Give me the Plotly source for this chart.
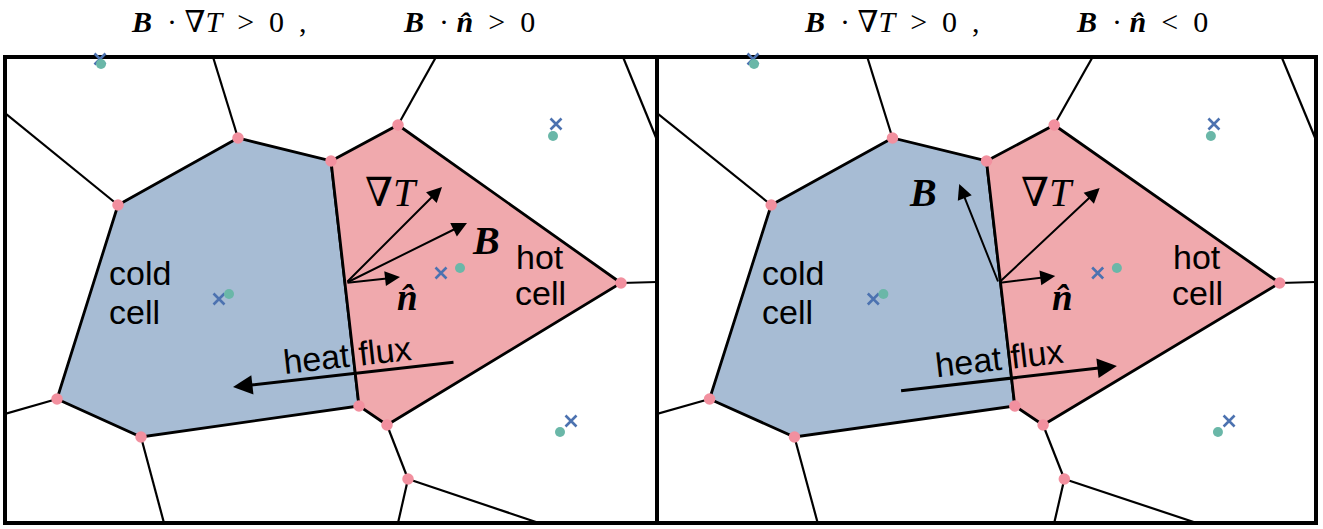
import plotly.graph_objects as go

# ---------------- data (schematic coordinates, same mesh in both panels) ----------------
# Voronoi vertices (pink dots)
vert_x = [233, 326, 393, 113, 616, 52, 136, 354, 382, 403]
vert_y = [385, 362, 398, 318, 240, 124, 86, 117, 98, 44]

# cold cell polygon (vertex indices) and hot cell polygon
cold_idx = [3, 0, 1, 7, 6, 5, 3]
hot_idx = [1, 2, 4, 8, 7, 1]

# other mesh edges (segments)
edge_x0 = [233, 393, 113, 618, 616, 52, 136, 382, 403, 403]
edge_y0 = [385, 398, 318, 466, 240, 124, 86, 98, 44, 44]
edge_x1 = [208, 431, 0, 652, 652, 0, 159, 403, 393, 534]
edge_y1 = [466, 466, 410, 383, 241, 109, 0, 44, 0, 0]

# mesh-generating points (x) and cell centroids (dots)
gen_x = [95, 551, 436, 214, 566]
gen_y = [464, 399, 250, 224, 102]
cen_x = [96, 548, 455, 224, 555]
cen_y = [459, 387, 255, 229, 91]

# vectors: origin and tips, per panel
panels = ["left", "right"]
origin = {"left": (341, 240), "right": (338, 240)}
tip_gradT = {"left": (437, 336), "right": (438, 335)}
tip_B = {"left": (462, 300), "right": (299, 339)}
tip_n = {"left": (395, 246), "right": (394, 247)}
flux_tail = {"left": (450, 161), "right": (240, 132)}
flux_head = {"left": (228, 136), "right": (455, 157)}
lab_gradT = {"left": (386, 331), "right": (386, 331)}
lab_B = {"left": (481, 283), "right": (263, 331)}
lab_n = {"left": (402, 226), "right": (401, 226)}
lab_flux = {"left": (342, 168), "right": (339, 165)}
flux_angle = {"left": -6.4, "right": -6.6}
titles = {"left": ">", "right": "<"}

# cell label words: (text, x-left, y-centre)
cell_words = [("cold", 102, 250), ("cell", 102, 211), ("hot", 509, 266), ("cell", 508, 230)]

# colours
C_COLD = "#A7BCD4"
C_HOT = "#F0A9AD"
C_VERT = "#F2909F"
C_GEN = "#4C72B0"
C_CEN = "#6AB7A8"

# ---------------- figure ----------------
W, H = 1323, 529
ML, MR, MT, MB = 5, 7, 57, 6
PW = W - ML - MR
split = 652 / PW

fig = go.Figure()
SERIF = "Liberation Serif, DejaVu Serif, serif"
SANS = "Liberation Sans, Arial, sans-serif"

for k, p in enumerate(panels):
    xa = "x" if k == 0 else "x2"
    ya = "y" if k == 0 else "y2"
    # cell fills
    fig.add_trace(go.Scatter(x=[vert_x[i] for i in cold_idx], y=[vert_y[i] for i in cold_idx],
                             fill="toself", fillcolor=C_COLD, mode="lines",
                             line=dict(color="black", width=2.8), xaxis=xa, yaxis=ya, hoverinfo="skip"))
    fig.add_trace(go.Scatter(x=[vert_x[i] for i in hot_idx], y=[vert_y[i] for i in hot_idx],
                             fill="toself", fillcolor=C_HOT, mode="lines",
                             line=dict(color="black", width=2.8), xaxis=xa, yaxis=ya, hoverinfo="skip"))
    # other edges
    ex, ey = [], []
    for a, b, c, d in zip(edge_x0, edge_y0, edge_x1, edge_y1):
        ex += [a, c, None]
        ey += [b, d, None]
    fig.add_trace(go.Scatter(x=ex, y=ey, mode="lines", line=dict(color="black", width=2.2),
                             xaxis=xa, yaxis=ya, hoverinfo="skip"))
    # vertices
    fig.add_trace(go.Scatter(x=vert_x, y=vert_y, mode="markers",
                             marker=dict(color=C_VERT, size=11.5, line=dict(width=0)),
                             xaxis=xa, yaxis=ya, hoverinfo="skip"))
    # generators and centroids
    fig.add_trace(go.Scatter(x=gen_x, y=gen_y, mode="markers", cliponaxis=False,
                             marker=dict(symbol="x-thin", color=C_GEN, size=11,
                                         line=dict(color=C_GEN, width=2.6)),
                             xaxis=xa, yaxis=ya, hoverinfo="skip"))
    fig.add_trace(go.Scatter(x=cen_x, y=cen_y, mode="markers", cliponaxis=False,
                             marker=dict(color=C_CEN, size=10, line=dict(width=0)),
                             xaxis=xa, yaxis=ya, hoverinfo="skip"))

    # vector arrows
    ox, oy = origin[p]
    for tip in (tip_gradT[p], tip_B[p], tip_n[p]):
        fig.add_annotation(x=tip[0], y=tip[1], ax=ox, ay=oy, xref=xa, yref=ya,
                           axref=xa, ayref=ya, text="", showarrow=True,
                           arrowhead=2, arrowsize=1.5, arrowwidth=2, arrowcolor="black", standoff=0)
    fig.add_annotation(x=flux_head[p][0], y=flux_head[p][1], ax=flux_tail[p][0], ay=flux_tail[p][1],
                       xref=xa, yref=ya, axref=xa, ayref=ya, text="", showarrow=True,
                       arrowhead=2, arrowsize=1.3, arrowwidth=3, arrowcolor="black", standoff=0)

    # vector labels
    fig.add_annotation(x=lab_gradT[p][0], y=lab_gradT[p][1], xref=xa, yref=ya, showarrow=False,
                       text="∇<i>T</i>", font=dict(family=SERIF, size=40, color="black"))
    fig.add_annotation(x=lab_B[p][0], y=lab_B[p][1], xref=xa, yref=ya, showarrow=False,
                       text="<b><i>B</i></b>", font=dict(family=SERIF, size=40, color="black"))
    fig.add_annotation(x=lab_n[p][0], y=lab_n[p][1], xref=xa, yref=ya, showarrow=False,
                       text="<b><i>n̂</i></b>", font=dict(family=SERIF, size=37, color="black"))
    # cell labels
    for word, wx, wy in cell_words:
        fig.add_annotation(x=wx, y=wy, xref=xa, yref=ya, showarrow=False, xanchor="left",
                           yanchor="middle", text=word, font=dict(family=SANS, size=34, color="black"))
    fig.add_annotation(x=lab_flux[p][0], y=lab_flux[p][1], xref=xa, yref=ya, showarrow=False,
                       textangle=flux_angle[p], text="heat flux",
                       font=dict(family=SANS, size=34, color="black"))

    # title
    nb = "\u00a0"
    ttl = (f"<b><i>B</i></b>{nb*2}·{nb}∇<i>T</i>{nb*2}>{nb*2}0{nb*2},{nb*13}"
           f"<b><i>B</i></b>{nb*2}·{nb}<b><i>n̂</i></b>{nb*2}{titles[p]}{nb*2}0")
    cx = (333 - ML) / PW if k == 0 else (1006 - ML) / PW
    fig.add_annotation(x=cx, y=(H - MB - 21) / (H - MT - MB), xref="paper", yref="paper",
                       showarrow=False, text=ttl, xanchor="center", yanchor="middle",
                       font=dict(family=SERIF, size=30, color="black"))

# panel frames
fig.add_shape(type="rect", xref="paper", yref="paper", x0=0, x1=split, y0=0, y1=1,
              line=dict(color="black", width=4), layer="below")
fig.add_shape(type="rect", xref="paper", yref="paper", x0=split, x1=1, y0=0, y1=1,
              line=dict(color="black", width=4), layer="below")

ax_common = dict(range=[0, 652], showgrid=False, zeroline=False, showticklabels=False,
                 ticks="", showline=False, fixedrange=True)
ay_common = dict(range=[0, 466], showgrid=False, zeroline=False, showticklabels=False,
                 ticks="", showline=False, fixedrange=True)
fig.update_layout(
    width=W, height=H, showlegend=False,
    margin=dict(l=ML, r=MR, t=MT, b=MB, pad=0),
    paper_bgcolor="white", plot_bgcolor="white",
    xaxis=dict(domain=[0, split], **ax_common),
    yaxis=dict(domain=[0, 1], **ay_common),
    xaxis2=dict(domain=[split, 1], anchor="y2", **ax_common),
    yaxis2=dict(domain=[0, 1], anchor="x2", **ay_common),
)

fig.write_html("out.html", config={"displayModeBar": False},
               post_script="document.body.style.margin='0px';")
